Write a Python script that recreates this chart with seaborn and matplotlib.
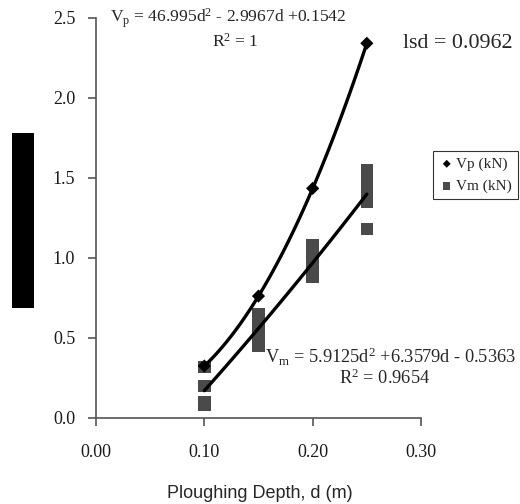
import numpy as np
import pandas as pd
import matplotlib
matplotlib.use("Agg")
import matplotlib.pyplot as plt
import seaborn as sns
from matplotlib.patches import Rectangle

# ---- data ----
vp_depth = [0.10, 0.15, 0.20, 0.25]
vp_values = [0.325, 0.762, 1.435, 2.342]

vm_depth = [0.10, 0.10, 0.10, 0.10,
            0.15, 0.15, 0.15, 0.15,
            0.20, 0.20, 0.20, 0.20,
            0.25, 0.25, 0.25, 0.25, 0.25]
vm_values = [0.32, 0.20, 0.10, 0.08,
             0.65, 0.58, 0.51, 0.45,
             1.08, 1.02, 0.95, 0.88,
             1.55, 1.48, 1.42, 1.35, 1.18]

x_ticks = [0.0, 0.1, 0.2, 0.3]
x_tick_labels = ["0.00", "0.10", "0.20", "0.30"]
y_ticks = [0.0, 0.5, 1.0, 1.5, 2.0, 2.5]
y_tick_labels = ["0.0", "0.5", "1.0", "1.5", "2.0", "2.5"]

eq_vp = "V$_\\mathrm{p}$ = 46.995d$^2$ - 2.9967d +0.1542"
r2_vp = "R$^2$ = 1"
eq_vm = "V$_\\mathrm{m}$ = 5.9125d$^2$ +6.3579d - 0.5363"
r2_vm = "R$^2$ = 0.9654"
lsd_text = "lsd = 0.0962"
x_label = "Ploughing Depth, d (m)"

sns.set_theme(style="white")
plt.rcParams["font.family"] = ["Liberation Serif", "DejaVu Serif"]
plt.rcParams["mathtext.fontset"] = "custom"
plt.rcParams["mathtext.rm"] = "Liberation Serif"
plt.rcParams["mathtext.it"] = "Liberation Serif:italic"

df_vp = pd.DataFrame({"d": vp_depth, "v": vp_values, "s": "Vp (kN)"})
df_vm = pd.DataFrame({"d": vm_depth, "v": vm_values, "s": "Vm (kN)"})

fig = plt.figure(figsize=(5.2, 5.04), dpi=100)
ax = fig.add_axes([96/520, 86/504, 325/520, 400/504])

sns.scatterplot(data=df_vm, x="d", y="v", marker="s", s=80, color="#4a4a4a",
                edgecolor="none", ax=ax, label="Vm (kN)", zorder=2)
sns.scatterplot(data=df_vp, x="d", y="v", marker="D", s=45, color="black",
                edgecolor="none", ax=ax, label="Vp (kN)", zorder=3)

sns.regplot(data=df_vp, x="d", y="v", order=2, ci=None, scatter=False,
            truncate=True, ax=ax, line_kws=dict(color="black", lw=2.4, zorder=4))
sns.regplot(data=df_vm, x="d", y="v", order=2, ci=None, scatter=False,
            truncate=True, ax=ax, line_kws=dict(color="black", lw=2.4, zorder=4))

ax.set_xlim(0, 0.3)
ax.set_ylim(0, 2.5)
ax.set_xticks(x_ticks)
ax.set_xticklabels(x_tick_labels)
ax.set_yticks(y_ticks)
ax.set_yticklabels(y_tick_labels)
ax.set_xlabel("")
ax.set_ylabel("")
for side in ["top", "right"]:
    ax.spines[side].set_visible(False)
for side in ["left", "bottom"]:
    ax.spines[side].set_color("#555555")
    ax.spines[side].set_linewidth(1.2)
ax.tick_params(axis="both", which="major", direction="out", length=6,
               width=1.2, color="#555555", labelsize=13, labelcolor="#1a1a1a")
ax.tick_params(axis="x", pad=13)
ax.tick_params(axis="y", pad=9)
ax.xaxis.set_ticks_position("bottom")
ax.yaxis.set_ticks_position("left")

# legend
handles, labels = ax.get_legend_handles_labels()
order = [labels.index("Vp (kN)"), labels.index("Vm (kN)")]
leg = ax.legend([handles[i] for i in order], [labels[i] for i in order],
                loc="upper left", bbox_to_anchor=(433/520, 1 - 151/504),
                bbox_transform=fig.transFigure, frameon=True, fancybox=False,
                fontsize=11, handletextpad=0.1, handlelength=1.0,
                borderpad=0.4, labelspacing=0.55, markerscale=0.6,
                borderaxespad=0)
leg.get_frame().set_edgecolor("black")
leg.get_frame().set_linewidth(0.8)

# annotations
fig.text(228/520, 1 - 18/504, eq_vp, ha="center", va="center", fontsize=12.6)
fig.text(235/520, 1 - 42/504, r2_vp, ha="center", va="center", fontsize=12.6)
fig.text(458/520, 1 - 44/504, lsd_text, ha="center", va="center", fontsize=15.8)
fig.text(390/520, 1 - 357/504, eq_vm, ha="center", va="center", fontsize=13.2)
fig.text(385/520, 1 - 378/504, r2_vm, ha="center", va="center", fontsize=13.2)

fig.text(260/520, 1 - 493/504, x_label, ha="center", va="center",
         fontsize=13, family=["Liberation Sans", "DejaVu Sans"])

# redacted y label block
fig.patches.append(Rectangle((12/520, 1 - 308/504), 22/520, 175/504,
                             transform=fig.transFigure, facecolor="black",
                             edgecolor="none"))

fig.savefig("out.png", dpi=100)
